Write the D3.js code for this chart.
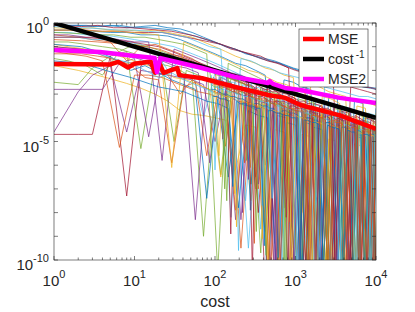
<!DOCTYPE html>
<html>
<head>
<meta charset="utf-8">
<script src="https://cdn.jsdelivr.net/npm/d3@7"></script>
<style>
  body { margin: 0; background: #fff; }
  svg { display: block; font-family: "Liberation Sans", Arial, sans-serif; }
</style>
</head>
<body>
<div class="viz"></div>
<script>
// costs for each group of runs; run values are log10 of the error
const gridA = [1, 2, 3, 5, 8, 12, 18, 26, 37, 52, 72, 100, 135, 180, 240, 320, 420, 550, 720, 940, 1200, 1550, 2000, 2600, 3300, 4200, 5400, 6900, 8500, 10000];
const gridB = [1, 1.5, 2.5, 4, 6.5, 10, 15, 22, 31, 44, 62, 86, 118, 158, 210, 280, 370, 480, 630, 820, 1070, 1380, 1780, 2300, 2950, 3800, 4850, 6200, 7900, 10000];
const gridC = [1, 2.2, 3.5, 5.5, 9, 13.5, 20, 29, 41, 57, 79, 108, 146, 195, 260, 345, 450, 590, 770, 1000, 1300, 1680, 2150, 2750, 3550, 4550, 5800, 7400, 9200, 10000];
const gridD = [90, 100, 112, 125, 140, 157, 175, 196, 220, 246, 275, 308, 345, 386, 432, 484, 542, 607, 680, 760, 851, 953, 1070, 1200, 1340, 1500, 1680, 1880, 2110, 2360, 2640, 2960, 3310, 3710, 4150, 4650, 5200, 5820, 6520, 7300, 8170, 9150, 10000];
const gridE = [95, 106, 118, 132, 148, 166, 185, 208, 233, 260, 291, 326, 365, 409, 458, 513, 574, 643, 720, 805, 901, 1010, 1130, 1270, 1420, 1590, 1780, 1990, 2230, 2500, 2800, 3130, 3510, 3930, 4400, 4920, 5510, 6170, 6910, 7730, 8650, 9700];

const runsA = [
  [-0.1,-0.1,-0.15,-0.1,-0.2,-0.15,-0.1,-0.2,-0.25,-0.4,-0.6,-0.8,-1.0,-1.1,-1.3,-1.4,-1.5,-1.6,-1.75,-1.9,-2.0,-2.1,-2.2,-2.35,-2.4,-2.5,-2.6,-2.7,-2.75,-2.8],
  [-0.5,-0.6,-0.7,-0.8,-1.6,-1.0,-0.9,-1.1,-1.3,-1.5,-1.8,-2.0,-5.2,-2.3,-2.6,-6.5,-2.9,-3.1,-7.8,-3.4,-3.6,-9.5,-3.8,-11,-4.0,-4.2,-11,-4.4,-11,-4.6],
  [-1.8,-2.0,-2.15,-2.35,-2.55,-2.75,-3.0,-3.3,-3.7,-3.85,-3.9,-4.0,-4.1,-6.2,-4.3,-4.4,-8.8,-4.5,-4.6,-11,-4.7,-4.8,-11,-4.9,-5.0,-11,-5.1,-5.2,-11,-5.3],
  [-4.6,-2.9,-2.2,-1.8,-4.6,-2.0,-2.1,-2.2,-2.3,-2.4,-2.6,-5.0,-2.8,-8.3,-3.0,-3.2,-6.0,-3.3,-3.5,-11,-3.6,-3.8,-11,-3.9,-4.1,-11,-4.2,-11,-4.4,-4.5],
  [-2.5,-2.6,-1.9,-1.4,-1.2,-5.3,-1.7,-1.8,-2.0,-2.3,-9.0,-2.5,-2.6,-2.8,-3.0,-7.0,-3.2,-3.4,-3.5,-9.5,-3.7,-11,-3.9,-4.0,-11,-4.2,-4.3,-11,-4.5,-4.6],
  [-0.6,-0.6,-0.7,-0.7,-0.8,-0.9,-1.2,-2.0,-1.6,-1.9,-4.0,-2.1,-2.3,-2.4,-7.5,-2.7,-2.8,-9.3,-3.1,-3.2,-11,-3.4,-3.5,-11,-3.7,-3.8,-11,-4.0,-4.1,-11],
  [-4.7,-4.7,-4.7,-1.4,-7.3,-1.8,-1.5,-1.3,-1.4,-1.6,-1.8,-2.0,-2.2,-2.4,-2.6,-2.8,-11,-3.0,-3.2,-3.3,-11,-3.5,-3.6,-11,-3.8,-3.9,-11,-4.1,-4.2,-11],
  [-0.3,-0.3,-0.35,-0.4,-0.4,-0.5,-0.5,-0.55,-0.7,-0.9,-1.1,-1.3,-1.5,-1.7,-1.8,-2.0,-2.2,-6.8,-2.4,-2.5,-2.7,-2.8,-10,-3.0,-3.1,-11,-3.3,-3.4,-11,-3.6],
  [-1.0,-1.1,-1.2,-1.5,-1.7,-1.6,-1.9,-2.2,-3.0,-2.4,-2.7,-2.9,-3.1,-7.9,-3.3,-3.5,-3.6,-11,-3.8,-3.9,-11,-4.0,-4.2,-11,-4.3,-4.4,-11,-4.5,-11,-4.7],
  [-0.2,-0.25,-0.2,-0.3,-0.3,-0.35,-0.3,-0.4,-0.5,-0.6,-0.8,-1.0,-1.2,-1.4,-1.55,-1.7,-1.9,-2.0,-2.2,-2.3,-8.0,-2.6,-2.7,-2.9,-3.0,-3.1,-11,-3.3,-3.4,-3.5]
];
const runsB = [
  [-2.8,-2.8,-2.8,-2.8,-1.7,-1.5,-4.8,-1.6,-1.8,-1.9,-2.1,-5.9,-2.3,-2.5,-8.3,-2.8,-2.9,-3.1,-11,-3.3,-3.4,-11,-3.6,-3.7,-11,-3.9,-11,-4.1,-4.2,-11],
  [-1.5,-1.6,-1.8,-2.2,-1.2,-0.9,-1.0,-1.2,-1.4,-1.6,-1.8,-2.0,-6.4,-2.3,-2.5,-6.8,-2.7,-2.9,-3.0,-11,-3.2,-3.3,-3.4,-11,-3.6,-3.7,-11,-3.9,-4.0,-11],
  [-0.4,-0.4,-0.5,-0.5,-0.6,-0.7,-0.8,-0.9,-1.0,-1.2,-1.4,-1.6,-1.8,-2.0,-2.2,-2.4,-8.7,-2.6,-2.7,-2.9,-3.0,-10,-3.2,-3.3,-11,-3.5,-3.6,-11,-3.8,-3.9],
  [-0.3,-0.3,-0.3,-0.35,-0.35,-0.4,-0.4,-0.4,-0.5,-0.6,-0.7,-0.8,-0.9,-1.1,-1.2,-1.3,-1.4,-1.6,-1.7,-1.9,-11,-2.1,-2.3,-2.4,-2.5,-11,-2.7,-2.8,-2.9,-3.0],
  [-0.05,-0.1,-0.1,-0.15,-0.1,-0.2,-0.2,-0.25,-0.3,-0.45,-0.6,-0.75,-0.9,-1.05,-1.2,-1.35,-1.5,-1.6,-1.7,-1.85,-2.0,-2.1,-2.2,-2.3,-2.45,-2.5,-2.6,-2.65,-2.7,-2.75],
  [-1.2,-1.3,-1.4,-1.6,-5.25,-2.2,-2.2,-2.3,-2.5,-2.7,-2.9,-3.0,-3.2,-3.3,-9.5,-3.5,-3.6,-11,-3.8,-3.9,-11,-4.0,-4.1,-11,-4.3,-11,-4.4,-4.5,-11,-4.7],
  [-0.9,-1.0,-1.1,-1.2,-1.4,-1.6,-1.8,-2.0,-2.3,-2.4,-2.6,-2.8,-6.5,-3.1,-3.2,-7.5,-3.4,-3.5,-11,-3.7,-3.8,-11,-3.9,-4.0,-11,-4.2,-4.3,-11,-4.4,-11],
  [-0.5,-0.5,-0.6,-0.6,-0.7,-0.8,-0.8,-5.8,-1.1,-1.3,-1.5,-1.7,-1.9,-2.1,-2.2,-2.4,-2.6,-2.7,-11,-2.9,-3.1,-3.2,-11,-3.4,-3.5,-11,-3.7,-3.8,-11,-4.0],
  [-0.8,-0.8,-0.9,-1.0,-1.1,-1.3,-1.5,-1.7,-5.0,-2.0,-2.2,-2.4,-2.6,-2.7,-2.9,-3.0,-9.7,-3.2,-3.3,-3.5,-11,-3.6,-3.7,-11,-3.9,-4.0,-11,-4.1,-11,-4.3],
  [-0.15,-0.2,-0.2,-0.25,-0.3,-0.3,-0.35,-0.4,-0.5,-0.6,-0.8,-1.0,-1.1,-8.2,-1.5,-1.6,-1.8,-1.9,-2.1,-2.2,-2.3,-2.5,-11,-2.7,-2.8,-2.9,-3.0,-3.1,-3.1,-3.2]
];
const runsC = [
  [-0.6,-0.6,-0.65,-0.7,-0.8,-0.9,-1.0,-1.2,-1.4,-1.6,-1.8,-2.0,-2.2,-2.3,-2.5,-8.0,-2.7,-2.9,-3.0,-3.2,-11,-3.4,-3.5,-11,-3.7,-3.8,-11,-4.0,-4.1,-4.2],
  [-0.9,-1.0,-1.2,-1.5,-2.0,-1.8,-2.1,-2.4,-2.6,-2.8,-7.4,-3.2,-6.5,-3.4,-3.5,-3.7,-11,-3.9,-4.0,-11,-4.2,-4.3,-11,-4.4,-4.5,-11,-4.7,-4.8,-11,-4.9],
  [-1.3,-1.3,-1.4,-1.5,-1.8,-2.3,-2.4,-5.9,-2.7,-2.5,-5.6,-2.9,-3.1,-3.3,-3.4,-7.0,-3.6,-3.8,-3.9,-11,-4.1,-4.2,-11,-4.3,-4.4,-11,-4.6,-11,-4.7,-4.8],
  [-0.3,-0.3,-0.35,-0.35,-0.4,-0.45,-0.5,-6.1,-0.8,-1.0,-1.2,-1.4,-1.6,-1.8,-2.0,-2.1,-2.3,-2.5,-2.6,-2.8,-2.9,-11,-3.1,-3.2,-3.4,-11,-3.5,-3.6,-11,-3.8],
  [-1.0,-1.1,-1.2,-1.3,-1.4,-1.6,-2.2,-1.9,-2.2,-8.3,-2.4,-2.6,-2.8,-3.0,-3.1,-3.3,-3.4,-11,-3.6,-3.7,-3.8,-11,-4.0,-4.1,-11,-4.3,-4.4,-11,-4.5,-4.6],
  [-0.4,-0.45,-0.5,-0.5,-0.6,-0.6,-0.7,-0.8,-0.9,-1.1,-1.3,-10.5,-1.7,-1.9,-2.1,-2.3,-2.5,-2.6,-2.8,-2.9,-3.1,-3.2,-11,-3.4,-3.5,-3.6,-11,-3.8,-3.9,-11],
  [-1.1,-1.2,-1.3,-1.5,-1.7,-2.0,-2.3,-2.1,-2.4,-2.6,-2.8,-3.0,-3.1,-3.3,-9.5,-3.5,-3.6,-3.7,-11,-3.9,-4.0,-11,-4.2,-4.3,-11,-4.4,-4.5,-11,-4.7,-4.8],
  [-0.1,-0.15,-0.1,-0.2,-0.2,-0.25,-0.3,-0.35,-0.45,-0.55,-0.7,-0.85,-1.0,-1.15,-1.3,-1.45,-1.6,-1.7,-1.85,-2.0,-2.1,-2.2,-2.35,-2.45,-2.55,-2.6,-2.65,-2.7,-2.75,-2.8],
  [-1.6,-1.7,-1.9,-2.1,-2.3,-2.5,-2.7,-2.8,-2.9,-3.1,-3.3,-3.4,-3.6,-7.8,-3.7,-3.9,-4.0,-11,-4.2,-4.3,-11,-4.4,-4.5,-11,-4.6,-11,-4.8,-4.9,-11,-5.0],
  [-0.7,-0.75,-0.8,-0.85,-0.9,-1.0,-1.1,-1.3,-1.5,-1.7,-1.9,-2.1,-2.3,-2.5,-2.6,-2.8,-10.5,-3.0,-3.1,-3.3,-3.4,-11,-3.6,-3.7,-11,-3.9,-4.0,-11,-4.2,-4.3]
];
const runsD = [
  [-2.3,-2.4,-5.6,-2.5,-2.6,-2.5,-7.2,-2.7,-2.8,-2.8,-6.1,-2.9,-3.0,-9.1,-3.1,-3.2,-3.1,-11,-3.3,-3.4,-8.4,-3.5,-3.5,-11,-3.6,-3.7,-11,-3.8,-3.8,-11,-3.9,-11,-4.0,-4.1,-11,-4.2,-11,-4.3,-4.3,-11,-4.4,-11,-4.5],
  [-2.0,-2.1,-2.1,-4.9,-2.2,-2.3,-2.4,-2.4,-8.0,-2.5,-2.6,-2.7,-6.8,-2.8,-2.9,-2.9,-11,-3.0,-3.1,-3.2,-3.2,-10.4,-3.3,-3.4,-3.5,-11,-3.6,-3.6,-11,-3.7,-3.8,-3.8,-11,-3.9,-4.0,-11,-4.1,-4.1,-11,-4.2,-4.3,-11,-4.4],
  [-2.6,-2.7,-2.7,-2.8,-7.5,-2.9,-2.9,-3.0,-3.0,-5.8,-3.1,-3.2,-3.2,-3.3,-9.8,-3.4,-3.4,-3.5,-3.5,-11,-3.6,-3.7,-3.7,-11,-3.8,-3.9,-3.9,-11,-4.0,-4.1,-11,-4.1,-4.2,-11,-4.3,-4.3,-11,-4.4,-4.5,-11,-4.5,-4.6,-11],
  [-2.2,-6.2,-2.3,-2.3,-2.4,-2.5,-2.5,-9.6,-2.6,-2.7,-2.7,-2.8,-2.9,-7.7,-3.0,-3.0,-3.1,-3.2,-11,-3.3,-3.3,-3.4,-11,-3.5,-3.5,-3.6,-11,-3.7,-3.8,-3.8,-11,-3.9,-4.0,-11,-4.0,-4.1,-4.2,-11,-4.2,-4.3,-11,-4.4,-4.4],
  [-2.4,-2.4,-2.5,-2.6,-2.6,-8.9,-2.7,-2.8,-2.8,-2.9,-3.0,-3.0,-3.1,-3.1,-3.2,-11,-3.3,-3.3,-3.4,-8.2,-3.5,-3.5,-3.6,-3.6,-11,-3.7,-3.8,-3.8,-11,-3.9,-4.0,-11,-4.0,-4.1,-4.1,-11,-4.2,-4.3,-11,-4.3,-4.4,-4.4,-11],
  [-2.8,-2.8,-2.9,-3.0,-3.0,-3.1,-3.1,-3.2,-3.2,-3.3,-7.9,-3.4,-3.4,-3.5,-3.5,-3.6,-3.6,-9.9,-3.7,-3.7,-3.8,-3.8,-3.9,-11,-4.0,-4.0,-4.1,-4.1,-11,-4.2,-4.2,-4.3,-11,-4.4,-4.4,-4.5,-11,-4.5,-4.6,-11,-4.7,-4.7,-4.8],
  [-2.5,-2.5,-2.6,-2.6,-2.7,-2.8,-2.8,-2.9,-2.9,-3.0,-3.0,-9.3,-3.1,-3.2,-3.2,-3.3,-3.3,-3.4,-3.5,-3.5,-11,-3.6,-3.6,-3.7,-3.8,-11,-3.8,-3.9,-4.0,-4.0,-11,-4.1,-4.1,-4.2,-11,-4.3,-4.3,-4.4,-11,-4.5,-4.5,-11,-4.6]
];
const runsE = [
  [-2.9,-3.0,-3.0,-3.1,-3.1,-3.2,-8.6,-3.3,-3.3,-3.4,-3.4,-3.5,-3.5,-3.6,-11,-3.7,-3.7,-3.8,-3.8,-3.9,-11,-3.9,-4.0,-4.0,-4.1,-11,-4.2,-4.2,-4.3,-11,-4.3,-4.4,-4.4,-11,-4.5,-4.5,-11,-4.6,-4.7,-11,-4.7,-4.8],
  [-2.3,-2.4,-2.4,-2.5,-2.5,-2.6,-2.7,-2.7,-2.8,-6.6,-2.9,-2.9,-3.0,-3.0,-3.1,-3.2,-10.8,-3.3,-3.3,-3.4,-3.4,-3.5,-11,-3.6,-3.6,-3.7,-3.8,-11,-3.8,-3.9,-3.9,-11,-4.0,-4.1,-11,-4.2,-4.2,-11,-4.3,-4.3,-11,-4.4],
  [-2.1,-2.2,-2.2,-7.0,-2.3,-2.4,-2.4,-2.5,-2.6,-2.6,-2.7,-8.8,-2.8,-2.9,-2.9,-3.0,-3.0,-3.1,-11,-3.2,-3.3,-3.3,-3.4,-3.4,-11,-3.5,-3.6,-3.6,-3.7,-11,-3.8,-3.8,-3.9,-11,-4.0,-4.0,-4.1,-11,-4.2,-4.2,-11,-4.3],
  [-2.7,-2.7,-2.8,-2.8,-2.9,-2.9,-3.0,-3.0,-3.1,-3.1,-3.2,-3.2,-3.3,-3.3,-3.4,-7.4,-3.5,-3.5,-3.6,-3.6,-3.7,-11,-3.7,-3.8,-3.8,-3.9,-4.0,-11,-4.0,-4.1,-4.1,-4.2,-11,-4.3,-4.3,-4.4,-11,-4.5,-4.5,-4.6,-11,-4.7],
  [-2.0,-2.0,-2.1,-2.2,-2.2,-2.3,-2.3,-2.4,-2.5,-2.5,-10.5,-2.6,-2.7,-2.8,-2.8,-2.9,-2.9,-3.0,-3.1,-11,-3.1,-3.2,-3.3,-3.3,-3.4,-3.4,-11,-3.5,-3.6,-3.6,-3.7,-11,-3.8,-3.8,-3.9,-11,-3.9,-4.0,-4.1,-11,-4.1,-4.2],
  [-3.1,-3.1,-3.2,-3.2,-3.3,-6.9,-3.3,-3.4,-3.4,-3.5,-3.5,-3.6,-3.6,-9.4,-3.7,-3.7,-3.8,-3.8,-3.9,-3.9,-4.0,-4.0,-11,-4.1,-4.1,-4.2,-4.2,-4.3,-11,-4.3,-4.4,-4.4,-4.5,-11,-4.5,-4.6,-4.6,-11,-4.7,-4.7,-4.8,-11],
  [-2.6,-2.6,-2.7,-2.7,-2.8,-2.9,-2.9,-3.0,-5.9,-3.1,-3.1,-3.2,-3.2,-3.3,-3.3,-3.4,-3.5,-11,-3.5,-3.6,-3.6,-3.7,-3.7,-3.8,-11,-3.9,-3.9,-4.0,-4.0,-11,-4.1,-4.2,-4.2,-4.3,-11,-4.4,-4.4,-11,-4.5,-4.6,-4.6,-11]
];

const mseCost = [1, 2.5, 5, 6.3, 8.3, 10, 12.6, 15.8, 18, 20.4, 23, 28, 34, 36, 69, 178, 457, 741, 1150, 3550, 10000];
const mseLog  = [-1.73, -1.74, -1.75, -1.64, -1.88, -1.72, -1.68, -1.62, -2.1, -1.7, -2.1, -2.0, -1.9, -2.2, -2.33, -2.7, -3.04, -3.16, -3.46, -3.9, -4.47];

const mse2Cost = [1, 3.7, 10.2, 17.8, 19, 21, 26, 69, 178, 457, 479, 525, 741, 1150, 3550, 10000];
const mse2Log  = [-1.14, -1.22, -1.39, -1.48, -2.07, -1.48, -1.56, -1.9, -2.28, -2.53, -2.45, -2.57, -2.74, -2.83, -3.16, -3.38];

const refCost = [1, 10000];
const refVal  = [1, 1e-4];

const xTicks = [0, 1, 2, 3, 4];       // exponents
const yLabelTicks = [0, -5, -10];     // exponents
const legendLabels = ["MSE", "cost", "MSE2"];

const matlabColors = ["#0072BD", "#D95319", "#EDB120", "#7E2F8E", "#77AC30", "#4DBEEE", "#A2142F"];

const width = 415, height = 312;
const margin = ({top: 23, right: 39, bottom: 52, left: 54});
const ink = "#262626";

const svg = d3.select('.viz').append('svg')
    .attr('width', width)
    .attr('height', height);

const x = d3.scaleLog()
    .domain([1, 1e4])
    .range([margin.left, width - margin.right]);

const y = d3.scaleLog()
    .domain([1e-10, 1])
    .range([height - margin.bottom, margin.top]);

svg.append("clipPath").attr("id", "plot-clip")
  .append("rect")
    .attr("x", margin.left).attr("y", margin.top)
    .attr("width", width - margin.left - margin.right)
    .attr("height", height - margin.top - margin.bottom);

const line = d3.line()
    .x(d => x(d[0]))
    .y(d => y(d[1]));

const toPoints = (grid) => (r) => r.map((v, i) => [grid[i], Math.pow(10, v)]);
const runs = [].concat(
  runsA.map(toPoints(gridA)),
  runsB.map(toPoints(gridB)),
  runsC.map(toPoints(gridC)),
  runsD.map(toPoints(gridD)),
  runsE.map(toPoints(gridE))
);

const plot = svg.append("g").attr("clip-path", "url(#plot-clip)");

plot.append("g")
    .attr("fill", "none")
    .attr("stroke-width", 0.8)
    .attr("stroke-opacity", 0.9)
  .selectAll("path").data(runs).enter().append("path")
    .attr("stroke", (d, i) => matlabColors[i % matlabColors.length])
    .attr("d", line);

const mse = mseCost.map((c, i) => [c, Math.pow(10, mseLog[i])]);
const mse2 = mse2Cost.map((c, i) => [c, Math.pow(10, mse2Log[i])]);
const ref = refCost.map((c, i) => [c, refVal[i]]);

const thick = [
  {data: mse, color: "#FF0000"},
  {data: ref, color: "#000000"},
  {data: mse2, color: "#FF00FF"}
];

plot.selectAll("path.thick").data(thick).enter().append("path")
    .attr("class", "thick")
    .attr("fill", "none")
    .attr("stroke", d => d.color)
    .attr("stroke-width", 4.5)
    .attr("stroke-linejoin", "round")
    .attr("d", d => line(d.data));

// axes box with inward ticks
const x0 = x.range()[0], x1 = x.range()[1];
const y0 = y.range()[0], y1 = y.range()[1];

const minorX = [];
for (let e = 0; e < 4; e++) for (let m = 2; m < 10; m++) minorX.push(m * Math.pow(10, e));
const majorX = xTicks.map(e => Math.pow(10, e));
const decY = d3.range(0, 11).map(k => Math.pow(10, -k));

const axes = svg.append("g").attr("stroke", ink).attr("stroke-width", 0.6).attr("fill", "none");

axes.append("rect")
    .attr("x", x0).attr("y", y1)
    .attr("width", x1 - x0).attr("height", y0 - y1);

const xt = majorX.map(v => ({v, len: 4})).concat(minorX.map(v => ({v, len: 2.5})));
axes.selectAll("line.xb").data(xt).enter().append("line")
    .attr("x1", d => x(d.v)).attr("x2", d => x(d.v))
    .attr("y1", y0).attr("y2", d => y0 - d.len);
axes.selectAll("line.xt").data(xt).enter().append("line")
    .attr("x1", d => x(d.v)).attr("x2", d => x(d.v))
    .attr("y1", y1).attr("y2", d => y1 + d.len);
axes.selectAll("line.yl").data(decY).enter().append("line")
    .attr("x1", x0).attr("x2", x0 + 4)
    .attr("y1", d => y(d)).attr("y2", d => y(d));
axes.selectAll("line.yr").data(decY).enter().append("line")
    .attr("x1", x1).attr("x2", x1 - 4)
    .attr("y1", d => y(d)).attr("y2", d => y(d));

// tick labels as 10 with superscript exponent
function powLabel(sel, e) {
  sel.append("tspan").text("10");
  sel.append("tspan").attr("dy", -8).attr("font-size", 11).text(e);
}

svg.selectAll("text.xl").data(xTicks).enter().append("text")
    .attr("x", d => x(Math.pow(10, d)))
    .attr("y", y0 + 26)
    .attr("text-anchor", "middle")
    .attr("font-size", 15)
    .attr("fill", ink)
    .each(function(d) { powLabel(d3.select(this), String(d)); });

svg.selectAll("text.yl").data(yLabelTicks).enter().append("text")
    .attr("x", x0 - 5)
    .attr("y", d => y(Math.pow(10, d)) + 10)
    .attr("text-anchor", "end")
    .attr("font-size", 15)
    .attr("fill", ink)
    .each(function(d) { powLabel(d3.select(this), String(d)); });

svg.append("text")
    .attr("x", (x0 + x1) / 2)
    .attr("y", 307)
    .attr("text-anchor", "middle")
    .attr("font-size", 16)
    .attr("fill", ink)
    .text("cost");

// legend
const legend = svg.append("g").attr("transform", "translate(299,29)");
legend.append("rect")
    .attr("width", 69).attr("height", 58)
    .attr("fill", "#fff")
    .attr("stroke", ink).attr("stroke-width", 0.6);

const entries = legend.selectAll("g.entry").data(thick).enter().append("g")
    .attr("transform", (d, i) => `translate(0,${10 + i * 20})`);
entries.append("line")
    .attr("x1", 4).attr("x2", 25)
    .attr("stroke", d => d.color)
    .attr("stroke-width", 4.5);
entries.append("text")
    .attr("x", 29).attr("y", 5)
    .attr("font-size", 14)
    .attr("fill", ink)
    .each(function(d, i) {
      const t = d3.select(this);
      t.append("tspan").text(legendLabels[i]);
      if (i === 1) t.append("tspan").attr("dx", 2).attr("dy", -6).attr("font-size", 10).text("-1");
    });
</script>
</body>
</html>
